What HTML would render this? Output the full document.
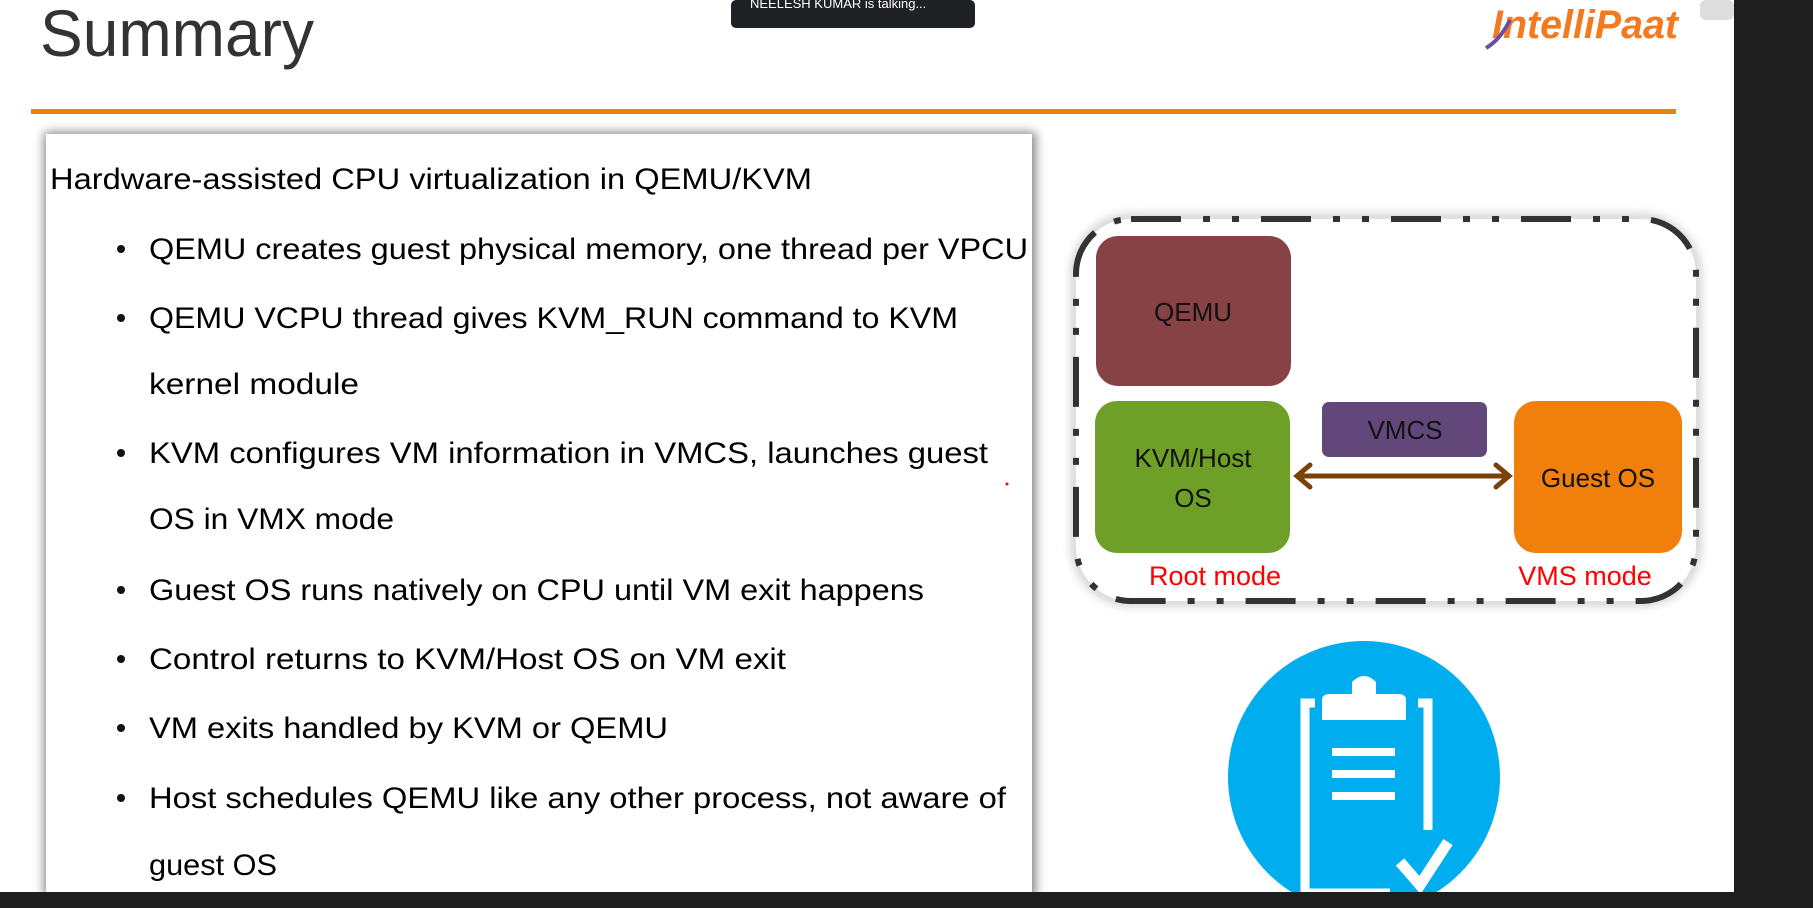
<!DOCTYPE html>
<html><head><style>
html,body{margin:0;padding:0;background:#fff;width:1813px;height:908px;overflow:hidden}
svg{display:block}
</style></head><body>
<svg width="1813" height="908" xmlns="http://www.w3.org/2000/svg" font-family="Liberation Sans, sans-serif">
<defs>
<filter id="sh" x="-5%" y="-5%" width="110%" height="110%"><feGaussianBlur stdDeviation="5"/></filter>
</defs>
<rect width="1813" height="908" fill="#fff"/>
<text x="40" y="56" font-size="66" fill="#333" textLength="274" lengthAdjust="spacingAndGlyphs">Summary</text>
<rect x="731" y="0" width="244" height="28" rx="5" fill="#202124"/>
<text x="750" y="8" font-size="13" fill="#fff">NEELESH KUMAR is talking...</text>
<text x="1492" y="38" font-size="40" font-weight="bold" font-style="italic" fill="#f47a20" textLength="186" lengthAdjust="spacingAndGlyphs">IntelliPaat</text>
<path d="M1486 48 Q1500 40 1510 20" stroke="#6a4fa0" stroke-width="4" fill="none"/>
<rect x="31" y="109" width="1645" height="5" fill="#f07f0c"/>
<rect x="44" y="132" width="992" height="766" fill="#888" filter="url(#sh)"/>
<rect x="46" y="134" width="986" height="760" fill="#fff"/>
<g font-size="30" fill="#000">
<text x="50" y="189" textLength="762" lengthAdjust="spacingAndGlyphs">Hardware-assisted CPU virtualization in QEMU/KVM</text>
<text x="149" y="259" textLength="879" lengthAdjust="spacingAndGlyphs">QEMU creates guest physical memory, one thread per VPCU</text>
<text x="149" y="328" textLength="809" lengthAdjust="spacingAndGlyphs">QEMU VCPU thread gives KVM_RUN command to KVM</text>
<text x="149" y="394" textLength="210" lengthAdjust="spacingAndGlyphs">kernel module</text>
<text x="149" y="463" textLength="839" lengthAdjust="spacingAndGlyphs">KVM configures VM information in VMCS, launches guest</text>
<text x="149" y="529" textLength="245" lengthAdjust="spacingAndGlyphs">OS in VMX mode</text>
<text x="149" y="600" textLength="775" lengthAdjust="spacingAndGlyphs">Guest OS runs natively on CPU until VM exit happens</text>
<text x="149" y="669" textLength="637" lengthAdjust="spacingAndGlyphs">Control returns to KVM/Host OS on VM exit</text>
<text x="149" y="738" textLength="519" lengthAdjust="spacingAndGlyphs">VM exits handled by KVM or QEMU</text>
<text x="149" y="808" textLength="857" lengthAdjust="spacingAndGlyphs">Host schedules QEMU like any other process, not aware of</text>
<text x="149" y="875" textLength="128" lengthAdjust="spacingAndGlyphs">guest OS</text>
</g>
<g fill="#111">
<circle cx="121" cy="249" r="4"/><circle cx="121" cy="318" r="4"/><circle cx="121" cy="453" r="4"/>
<circle cx="121" cy="590" r="4"/><circle cx="121" cy="659" r="4"/><circle cx="121" cy="728" r="4"/><circle cx="121" cy="798" r="4"/>
</g>
<circle cx="1007" cy="484" r="1.5" fill="red"/>
<rect x="1076" y="219" width="620" height="382" rx="55" fill="#fff" stroke="#999" stroke-width="8" filter="url(#sh)" opacity="0.6"/>
<rect x="1076" y="219" width="620" height="382" rx="55" fill="#fff" stroke="#333" stroke-width="6" stroke-dasharray="50 22 7 22 7 22"/>
<rect x="1096" y="236" width="195" height="150" rx="22" fill="#874245"/>
<rect x="1095" y="401" width="195" height="152" rx="22" fill="#6e9f27"/>
<rect x="1322" y="402" width="165" height="55" rx="7" fill="#62487a"/>
<rect x="1514" y="401" width="168" height="152" rx="22" fill="#f07f0c"/>
<g stroke="#7a4208" stroke-width="5" fill="none" stroke-linecap="round">
<line x1="1298" y1="476" x2="1508" y2="476"/>
<polyline points="1310,465 1297,476 1310,487"/>
<polyline points="1496,465 1509,476 1496,487"/>
</g>
<g font-size="26" fill="#111" text-anchor="middle">
<text x="1193" y="321">QEMU</text>
<text x="1193" y="467">KVM/Host</text>
<text x="1193" y="507">OS</text>
<text x="1405" y="439">VMCS</text>
<text x="1598" y="487">Guest OS</text>
</g>
<g font-size="27" fill="#f00" text-anchor="middle">
<text x="1215" y="585">Root mode</text>
<text x="1585" y="585">VMS mode</text>
</g>
<circle cx="1364" cy="777" r="136" fill="#00aeef"/>
<g fill="none" stroke="#fff" stroke-width="9">
<polyline points="1315,703 1305,703 1305,893 1390,893"/>
<polyline points="1418,703 1428,703 1428,830"/>
</g>
<path d="M1322 720 L1322 700 Q1322 694 1330 694 L1352 694 L1352 682 Q1364 670 1376 682 L1376 694 L1398 694 Q1406 694 1406 700 L1406 720 Z" fill="#fff"/>
<g fill="#fff"><rect x="1332" y="748" width="63" height="8"/><rect x="1332" y="770" width="63" height="8"/><rect x="1332" y="792" width="63" height="8"/></g>
<polyline points="1400,862 1420,885 1448,842" fill="none" stroke="#fff" stroke-width="11"/>
<rect x="1734" y="0" width="79" height="908" fill="#1e1e1e"/>
<rect x="1700" y="0" width="34" height="20" rx="6" fill="#ddd"/>
<rect x="0" y="892" width="1813" height="16" fill="#1e1e1e"/>
</svg>
</body></html>
